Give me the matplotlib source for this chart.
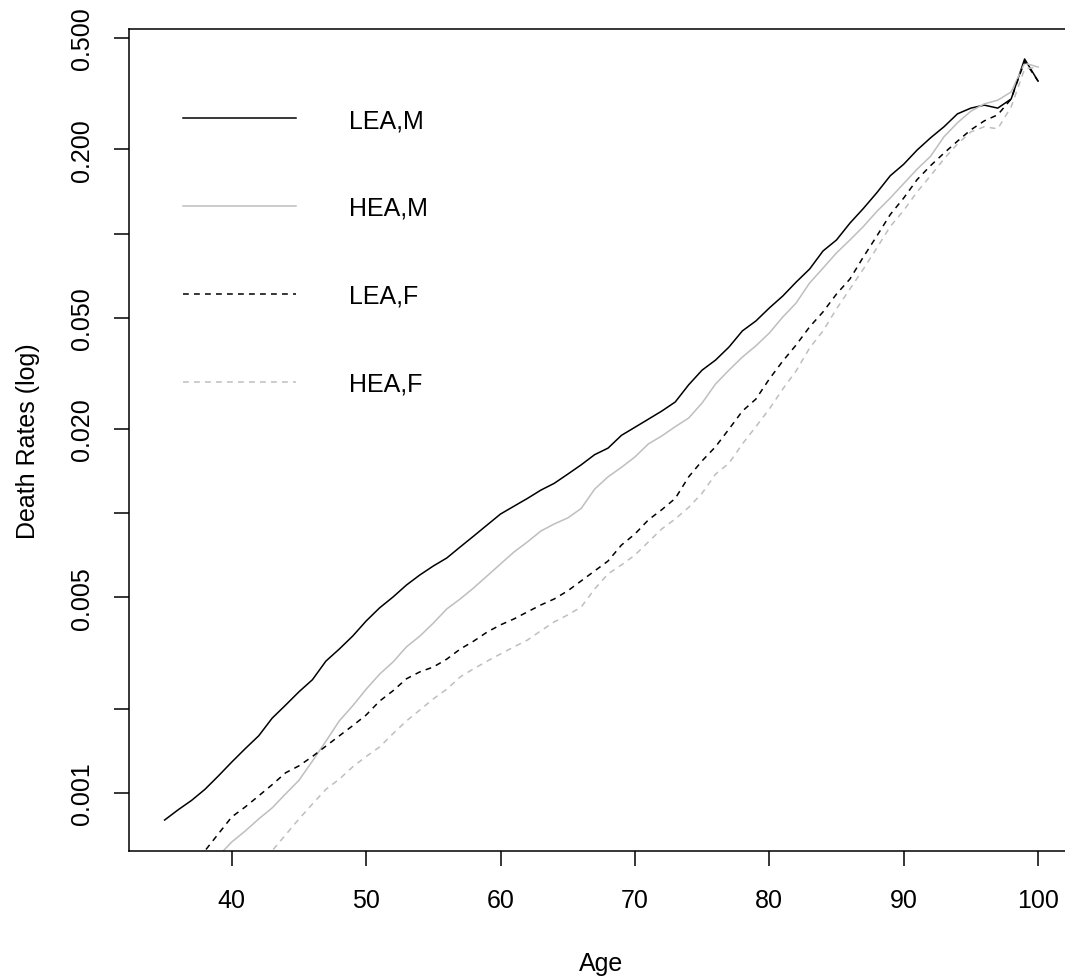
import numpy as np
import matplotlib.pyplot as plt

plt.rcParams['font.family'] = ['Liberation Sans', 'DejaVu Sans']

# death rates by age
age_lea_m = list(range(35, 101))
lea_m = [0.00080, 0.00087, 0.00094, 0.00103, 0.00115, 0.00129, 0.00144, 0.00160,
         0.00185, 0.00206, 0.00230, 0.00254, 0.00296, 0.00327, 0.00364, 0.00412,
         0.00459, 0.00502, 0.00554, 0.00602, 0.00648, 0.00692, 0.00758, 0.00829,
         0.00908, 0.00994, 0.0106, 0.0113, 0.0121, 0.0128, 0.0138, 0.0149,
         0.0162, 0.0171, 0.0190, 0.0203, 0.0217, 0.0232, 0.0250, 0.0288,
         0.0325, 0.0353, 0.0393, 0.0449, 0.0487, 0.0542, 0.0598, 0.0671,
         0.0747, 0.0867, 0.0949, 0.109, 0.123, 0.140, 0.161, 0.177,
         0.199, 0.220, 0.241, 0.268, 0.281, 0.288, 0.281, 0.303, 0.421, 0.351]

age_hea_m = list(range(38, 101))
hea_m = [0.000535, 0.000595, 0.000668, 0.000731, 0.000807, 0.000884, 0.000992,
         0.00111, 0.00130, 0.00153, 0.00181, 0.00205, 0.00235, 0.00266, 0.00294,
         0.00333, 0.00364, 0.00405, 0.00455, 0.00494, 0.00541, 0.00597, 0.00659,
         0.00727, 0.00790, 0.00864, 0.00916, 0.00962, 0.0104, 0.0122, 0.0135,
         0.0146, 0.0159, 0.0177, 0.0189, 0.0204, 0.0219, 0.0248, 0.0290,
         0.0325, 0.0362, 0.0397, 0.0441, 0.0503, 0.0565, 0.0666, 0.0753,
         0.0853, 0.0949, 0.106, 0.120, 0.134, 0.151, 0.170, 0.189,
         0.222, 0.249, 0.274, 0.291, 0.300, 0.321, 0.407, 0.394]

age_lea_f = list(range(37, 101))
lea_f = [0.000548, 0.000621, 0.000714, 0.000821, 0.000891, 0.000976, 0.00107,
         0.00118, 0.00125, 0.00135, 0.00147, 0.00160, 0.00174, 0.00190, 0.00213,
         0.00232, 0.00256, 0.00271, 0.00282, 0.00301, 0.00327, 0.00349, 0.00376,
         0.00399, 0.00419, 0.00444, 0.00470, 0.00494, 0.00528, 0.00573, 0.00622,
         0.00675, 0.00770, 0.00843, 0.00947, 0.0103, 0.0113, 0.0135, 0.0154,
         0.0173, 0.0200, 0.0232, 0.0256, 0.0302, 0.0350, 0.0400, 0.0464,
         0.0525, 0.0608, 0.0688, 0.0825, 0.0980, 0.117, 0.134, 0.156,
         0.175, 0.194, 0.214, 0.235, 0.253, 0.266, 0.303, 0.414, 0.351]

age_hea_f = list(range(42, 101))
hea_f = [0.000548, 0.000621, 0.000708, 0.000807, 0.000913, 0.00103, 0.00112,
         0.00124, 0.00135, 0.00146, 0.00163, 0.00181, 0.00198, 0.00217, 0.00235,
         0.00260, 0.00278, 0.00296, 0.00314, 0.00333, 0.00352, 0.00380, 0.00409,
         0.00433, 0.00462, 0.00536, 0.00607, 0.00654, 0.00709, 0.00790, 0.00879,
         0.00954, 0.0105, 0.0118, 0.0138, 0.0151, 0.0177, 0.0204, 0.0236,
         0.0278, 0.0323, 0.0390, 0.0449, 0.0538, 0.0634, 0.0747, 0.0888,
         0.106, 0.121, 0.141, 0.161, 0.185, 0.209, 0.231, 0.241,
         0.237, 0.284, 0.388, 0.394]

x_ticks = [40, 50, 60, 70, 80, 90, 100]
y_ticks = [0.001, 0.002, 0.005, 0.01, 0.02, 0.05, 0.1, 0.2, 0.5]
y_labels = ['0.001', '', '0.005', '', '0.020', '0.050', '', '0.200', '0.500']

grey = '#BEBEBE'
dash = (0, (3.8, 3.4))
fs = 18

fig = plt.figure(figsize=(10.65, 9.79), dpi=100)
# right edge of the box sits just outside the picture, as in the original
ax = fig.add_axes([129 / 1065, 1 - 852 / 979, 944 / 1065, 822 / 979])

ax.plot(age_lea_m, lea_m, color='black', lw=1.1, label='LEA,M')
ax.plot(age_hea_m, hea_m, color=grey, lw=1.1, label='HEA,M')
ax.plot(age_lea_f, lea_f, color='black', lw=1.1, linestyle=dash, label='LEA,F')
ax.plot(age_hea_f, hea_f, color=grey, lw=1.1, linestyle=dash, label='HEA,F')

ax.set_yscale('log')
ax.set_xlim(32.35, 102.6)
ax.set_ylim(0.00062, 0.539)

ax.set_xticks(x_ticks)
ax.set_xticklabels([str(t) for t in x_ticks])
ax.set_yticks(y_ticks)
ax.set_yticklabels(y_labels)
ax.minorticks_off()
ax.tick_params(length=11, width=1.1, labelsize=fs)
ax.tick_params(axis='x', pad=16)
ax.tick_params(axis='y', pad=14.5)
for lbl in ax.get_yticklabels():
    lbl.set_rotation(90)
    lbl.set_va('center')

for s in ax.spines.values():
    s.set_linewidth(1.1)
ax.spines['right'].set_visible(False)

ax.set_xlabel('Age', fontsize=fs, labelpad=28)
ax.set_ylabel('Death Rates (log)', fontsize=fs, labelpad=21)

ax.legend(loc='upper left', bbox_to_anchor=(183 / 1065, 1 - 109 / 979),
          bbox_transform=fig.transFigure, frameon=False, fontsize=fs,
          handlelength=4.5, handletextpad=2.15, labelspacing=2.55,
          borderpad=0, borderaxespad=0)

plt.savefig('out.png', dpi=100)
